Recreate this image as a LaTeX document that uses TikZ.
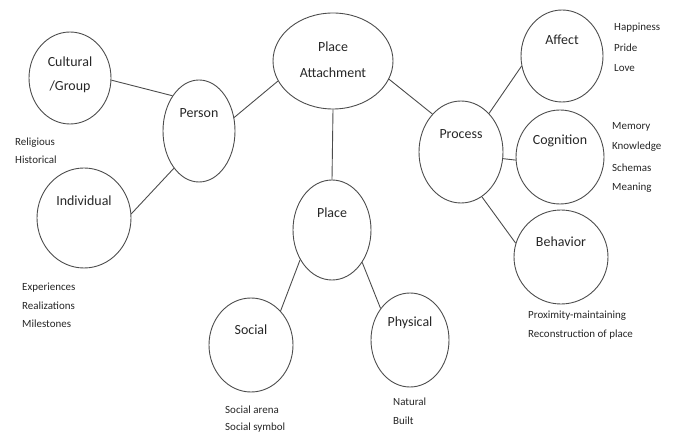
\documentclass[tikz,border=0pt]{standalone}
\usepackage{fontspec}
\setmainfont{Carlito}
\usetikzlibrary{shapes.geometric}
\tikzset{
  bubble/.style={draw=black!70, line width=0.9pt, ellipse, inner sep=0pt, fill=none},
  lbl/.style={font=\fontsize{14}{16}\selectfont, text=black!85, inner sep=0pt},
  note/.style={font=\fontsize{11}{13}\selectfont, text=black!85, inner sep=0pt, anchor=west, align=left},
  link/.style={draw=black!70, line width=0.9pt}
}
\begin{document}
\begin{tikzpicture}[x=1bp,y=-1bp]
\useasboundingbox (0,0) rectangle (675,439);
% ellipses
\node[bubble, minimum width=82bp, minimum height=92bp] (cult) at (70,78) {};
\node[bubble, minimum width=72bp, minimum height=102bp] (pers) at (199,131) {};
\node[bubble, minimum width=94bp, minimum height=100bp] (indi) at (84,218) {};
\node[bubble, minimum width=120bp, minimum height=96bp] (pa) at (333,61) {};
\node[bubble, minimum width=84bp, minimum height=102bp] (proc) at (461,152) {};
\node[bubble, minimum width=82bp, minimum height=92bp] (aff) at (562,56) {};
\node[bubble, minimum width=88bp, minimum height=94bp] (cog) at (560,157) {};
\node[bubble, minimum width=94bp, minimum height=94bp] (beh) at (561,257) {};
\node[bubble, minimum width=78bp, minimum height=100bp] (plc) at (332,230) {};
\node[bubble, minimum width=84bp, minimum height=94bp] (soc) at (251,345) {};
\node[bubble, minimum width=78bp, minimum height=94bp] (phy) at (410,340) {};
% labels
\node[lbl] (tcult1) at (70,62) {Cultural};
\node[lbl] (tcult2) at (70,87) {/Group};
\node[lbl] (tpers) at (199,113) {Person};
\node[lbl] (tindi) at (84,201) {Individual};
\node[lbl] (tpa1) at (333,47) {Place};
\node[lbl] (tpa2) at (333,73) {Attachment};
\node[lbl] (tproc) at (461,134) {Process};
\node[lbl] (taff) at (562,40) {Affect};
\node[lbl] (tcog) at (560,141) {Cognition};
\node[lbl] (tbeh) at (561,242) {Behavior};
\node[lbl] (tplc) at (332,213) {Place};
\node[lbl] (tsoc) at (251,330) {Social};
\node[lbl] (tphy) at (410,323) {Physical};
% notes
\node[note] (nrel) at (15,143) {Religious};
\node[note] (nhis) at (15,160) {Historical};
\node[note] (nexp) at (22,288) {Experiences};
\node[note] (nrea) at (22,306) {Realizations};
\node[note] (nmil) at (22,324) {Milestones};
\node[note] (nsa) at (225,410) {Social arena};
\node[note] (nss) at (225,428) {Social symbol};
\node[note] (nnat) at (393,402) {Natural};
\node[note] (nbui) at (393,421) {Built};
\node[note] (nhap) at (614,28) {Happiness};
\node[note] (npri) at (614,48) {Pride};
\node[note] (nlov) at (614,68) {Love};
\node[note] (nmem) at (612,127) {Memory};
\node[note] (nkno) at (612,147) {Knowledge};
\node[note] (nsch) at (612,168) {Schemas};
\node[note] (nmea) at (612,188) {Meaning};
\node[note] (nprox) at (528,316) {Proximity-maintaining};
\node[note] (nrec) at (528,335) {Reconstruction of place};
% connectors
\draw[link] (cult.-3) -- (pers.127);
\draw[link] (indi.5) -- (pers.236);
\draw[link] (pers.21) -- (pa.200);
\draw[link] (pa.south) -- (plc.north);
\draw[link] (pa.-18) -- (proc.127);
\draw[link] (proc.54) -- (aff.194);
\draw[link] (proc.-9) -- (cog.184);
\draw[link] (proc.-65) -- (beh.163);
\draw[link] (plc.223) -- (soc.49);
\draw[link] (plc.-47) -- (phy.133);
\end{tikzpicture}
\end{document}
